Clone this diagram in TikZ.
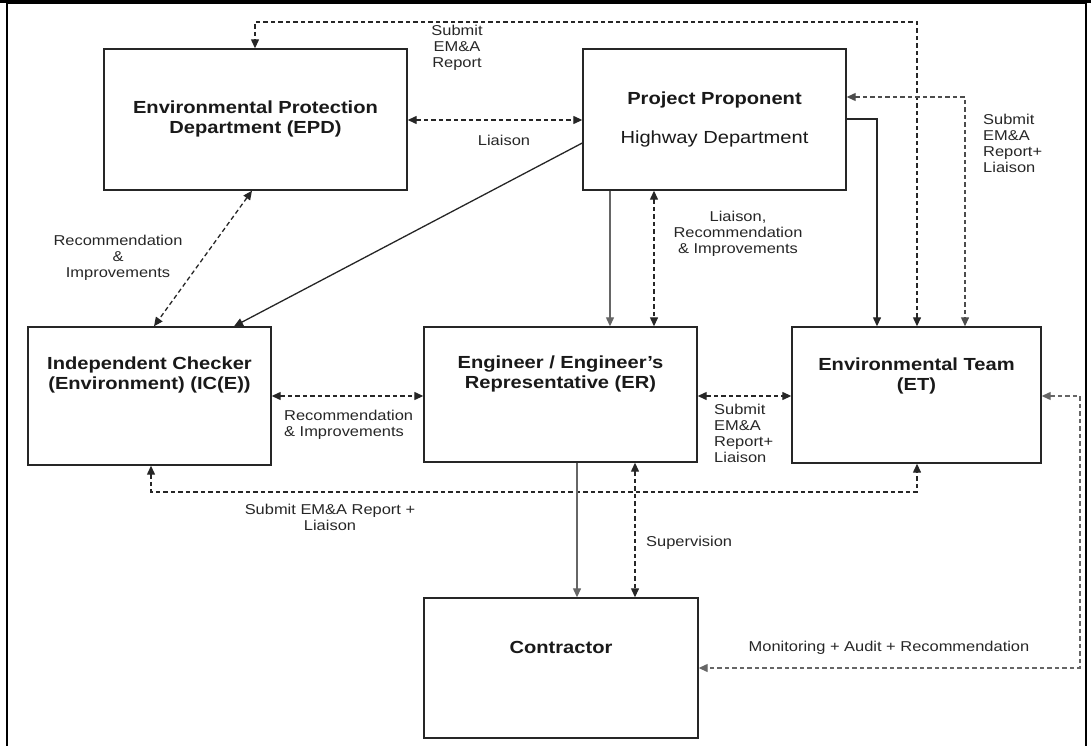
\documentclass[tikz,border=0pt]{standalone}
\usepackage{fontspec}
\setmainfont[FakeStretch=1.15]{Liberation Sans}
\usetikzlibrary{arrows.meta}
\begin{document}
\begin{tikzpicture}[x=1pt,y=-1pt,
  box/.style={draw=black!85, line width=1.4pt, fill=none, inner sep=0pt},
  title/.style={font=\fontsize{17.5}{20.5}\selectfont\bfseries, align=center, inner sep=0pt, text=black!90},
  plain/.style={font=\fontsize{17.5}{20.5}\selectfont, align=center, inner sep=0pt, text=black!90},
  lab/.style={font=\fontsize{14.3}{16}\selectfont, align=center, inner sep=0pt, text=black!85},
  labl/.style={lab, align=left, anchor=west},
  conn/.style={line width=1.3pt, draw=black!85},
  dsh/.style={conn, dash pattern=on 4.5pt off 3pt},
  arr/.style={-{Triangle[length=9pt,width=8pt]}},
  darr/.style={{Triangle[length=9pt,width=8pt]}-{Triangle[length=9pt,width=8pt]}}
]
\useasboundingbox (0,0) rectangle (1091,746);
% frame
\draw[line width=3pt] (0,2) -- (1091,2);
\draw[line width=1.5pt] (7,746) -- (7,3) -- (1086,3) -- (1086,746);

% boxes
\node[box, minimum width=303pt, minimum height=141pt] (epd) at (255.5,119.5) {};
\node[box, minimum width=263pt, minimum height=141pt] (pp) at (714.5,119.5) {};
\node[box, minimum width=243pt, minimum height=138pt] (ic) at (149.5,396) {};
\node[box, minimum width=273pt, minimum height=135pt] (er) at (560.5,394.5) {};
\node[box, minimum width=249pt, minimum height=136pt] (et) at (916.5,395) {};
\node[box, minimum width=274pt, minimum height=140pt] (con) at (561,668) {};

% box texts
\node[title] (epdT) at (255.5,119) {Environmental Protection\\Department (EPD)};
\node[title] (ppT) at (714.5,100) {Project Proponent};
\node[plain] (ppH) at (714.5,139) {Highway Department};
\node[title] (icT) at (149.5,375) {Independent Checker\\(Environment) (IC(E))};
\node[title] (erT) at (560.5,374) {Engineer / Engineer's\\Representative (ER)};
\node[title] (etT) at (916.5,376) {Environmental Team\\(ET)};
\node[title] (conT) at (561,647) {Contractor};

% connectors
\draw[dsh,darr] (et.north -| 917,0) -- (917,22) -- (255,22) -- (epd.north -| 255,0);
\draw[dsh,darr] (epd.east |- 0,120) -- (pp.west |- 0,120);
\draw[conn,arr] (pp.east |- 0,119) -- (877,119) -- (et.north -| 877,0);
\draw[dsh,darr,draw=black!70] (pp.east |- 0,97) -- (965,97) -- (et.north -| 965,0);
\draw[conn,arr] (pp.west |- 0,143) -- (ic.north -| 234,0);
\draw[dsh,darr] (epd.south -| 252,0) -- (ic.north -| 154,0);
\draw[conn,arr,draw=black!60] (pp.south -| 610,0) -- (er.north -| 610,0);
\draw[dsh,darr] (pp.south -| 654,0) -- (er.north -| 654,0);
\draw[dsh,darr] (ic.east |- 0,396) -- (er.west |- 0,396);
\draw[dsh,darr] (er.east |- 0,396) -- (et.west |- 0,396);
\draw[dsh,darr] (ic.south -| 151,0) -- (151,492) -- (917,492) -- (et.south -| 917,0);
\draw[conn,arr,draw=black!60] (er.south -| 577,0) -- (con.north -| 577,0);
\draw[dsh,darr] (er.south -| 635,0) -- (con.north -| 635,0);
\draw[dsh,darr,draw=black!60] (et.east |- 0,396) -- (1080,396) -- (1080,668) -- (con.east |- 0,668);

% labels
\node[lab] (l1) at (457,48) {Submit\\EM\&A\\Report};
\node[lab] (l2) at (504,140) {Liaison};
\node[lab] (l3) at (738,234) {Liaison,\\Recommendation\\\& Improvements};
\node[labl] (l4) at (983,143) {Submit\\EM\&A\\Report+\\Liaison};
\node[lab] (l5) at (118,258) {Recommendation\\\&\\Improvements};
\node[labl] (l6) at (284,425) {Recommendation\\\& Improvements};
\node[labl] (l7) at (714,433) {Submit\\EM\&A\\Report+\\Liaison};
\node[lab] (l8) at (330,517) {Submit EM\&A Report +\\Liaison};
\node[labl] (l9) at (646,543) {Supervision};
\node[lab] (l10) at (889,648) {Monitoring + Audit + Recommendation};
\end{tikzpicture}
\end{document}
